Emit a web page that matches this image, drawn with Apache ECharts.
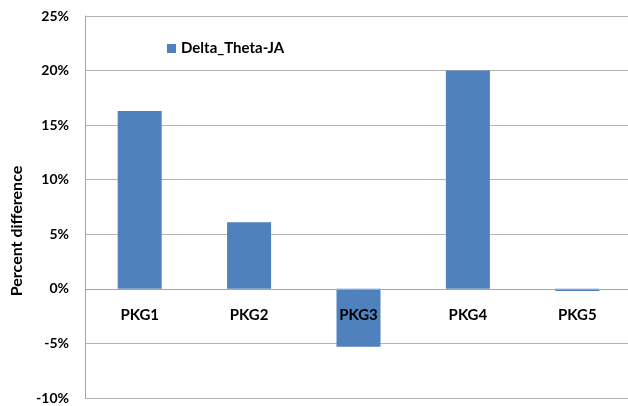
<!DOCTYPE html>
<html>
<head>
<meta charset="utf-8">
<script src="https://cdn.jsdelivr.net/npm/echarts@6/dist/echarts.min.js"></script>
<style>
  html, body { margin: 0; padding: 0; background: #ffffff; }
  #chart { width: 628px; height: 406px; }
</style>
</head>
<body>
<div id="chart"></div>
<script>
// Package names along the x axis
const categories = ['PKG1', 'PKG2', 'PKG3', 'PKG4', 'PKG5'];
// Percent difference of Theta-JA per package
const deltaThetaJA = [16.3, 6.1, -5.3, 20.0, -0.2];
const seriesName = 'Delta_Theta-JA';
const axisTitle = 'Percent difference';

const FONT = 'Lato';
const GRID_TOP = 16, GRID_H = 382;
const Y_MIN = -10, Y_MAX = 25;
// distance from the bottom edge of the grid up to the zero line
const zeroOffset = GRID_H * (0 - Y_MIN) / (Y_MAX - Y_MIN);

const chart = echarts.init(document.getElementById('chart'), null, { renderer: 'canvas' });

chart.setOption({
  animation: false,
  backgroundColor: '#ffffff',
  textStyle: { fontFamily: FONT },
  grid: { left: 85, top: GRID_TOP, width: 547, height: GRID_H, outerBoundsMode: 'none', containLabel: false },
  legend: {
    data: [seriesName],
    left: 162, top: 36,
    icon: 'rect', itemWidth: 9, itemHeight: 9, itemGap: 5,
    textStyle: { fontFamily: FONT, fontWeight: 'bold', fontSize: 15, color: '#000' }
  },
  xAxis: {
    type: 'category',
    data: categories,
    position: 'bottom',
    offset: -zeroOffset,
    z: 5,
    axisLine: { onZero: false, lineStyle: { color: '#a6a6a6', width: 1 } },
    axisTick: { show: false },
    axisLabel: { margin: 19, fontFamily: FONT, fontWeight: 'bold', fontSize: 15, color: '#000' },
    splitLine: { show: false }
  },
  yAxis: {
    type: 'value',
    min: Y_MIN, max: Y_MAX, interval: 5,
    axisLine: { show: true, lineStyle: { color: '#a6a6a6', width: 1 } },
    axisTick: { show: false },
    axisLabel: {
      formatter: '{value}%', margin: 16,
      fontFamily: FONT, fontWeight: 'bold', fontSize: 14, color: '#000'
    },
    splitLine: { show: true, lineStyle: { color: '#b4b4b4', width: 1 } }
  },
  graphic: [{
    type: 'text',
    x: 17, y: 231,
    rotation: Math.PI / 2,
    style: {
      text: axisTitle,
      fontFamily: FONT, fontWeight: 'bold', fontSize: 16, fill: '#000',
      align: 'center', verticalAlign: 'middle'
    }
  }],
  series: [{
    name: seriesName,
    type: 'bar',
    data: deltaThetaJA,
    barWidth: 44,
    itemStyle: { color: '#4f81bd' }
  }]
});
</script>
</body>
</html>
